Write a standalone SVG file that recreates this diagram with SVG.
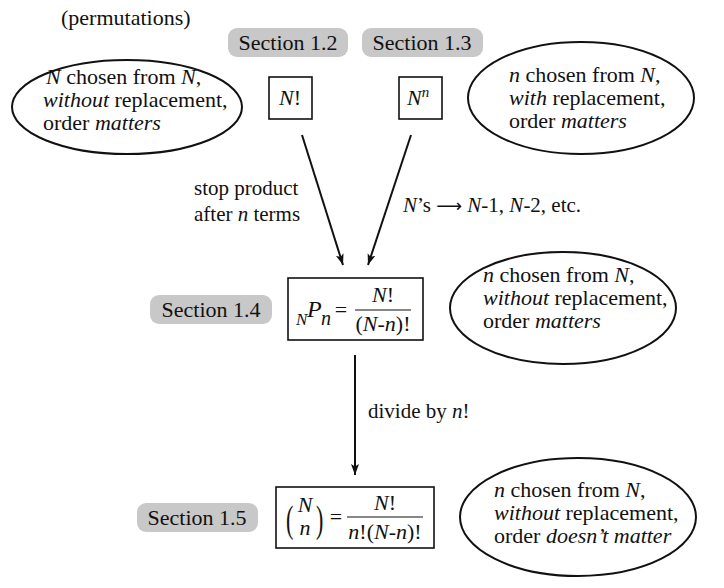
<svg xmlns="http://www.w3.org/2000/svg" width="724" height="588" viewBox="0 0 724 588" font-family="'Liberation Serif', 'Times New Roman', 'DejaVu Serif', serif">
<defs>
<marker id="ah" markerUnits="userSpaceOnUse" markerWidth="12" markerHeight="10" refX="11" refY="4" orient="auto">
<path d="M0,0 L11,4 L0,8 L2.5,4 z" fill="#111"/>
</marker>
<style>
text{font-family:'Liberation Serif','Times New Roman','DejaVu Serif',serif;fill:#111;}
.t{font-size:22px;}
.l{font-size:21px;}
.i{font-style:italic;}
.pill{fill:#c8c8c8;stroke:none;}
.box{fill:#fff;stroke:#111;stroke-width:1.6;}
.ell{fill:#fff;stroke:#111;stroke-width:2;}
.edge{stroke:#111;stroke-width:2;fill:none;marker-end:url(#ah);}
.c{text-anchor:middle;}
</style>
</defs>
<rect width="724" height="588" fill="#fff"/>

<text id="perm" class="t" x="61" y="25">(permutations)</text>

<g id="connectors">
<line class="edge" x1="302" y1="135" x2="343" y2="265"/>
<line class="edge" x1="411" y1="135" x2="368" y2="265"/>
<line class="edge" x1="355" y1="355" x2="355" y2="475"/>
<text class="l" x="194" y="195">stop product</text>
<text class="l" x="194" y="221">after <tspan class="i">n</tspan> terms</text>
<text class="l" x="403" y="212"><tspan class="i">N</tspan>’s <tspan font-family="DejaVu Sans, sans-serif" font-size="18">⟶</tspan> <tspan class="i">N</tspan>-1, <tspan class="i">N</tspan>-2, etc.</text>
<text class="l" x="368" y="418">divide by <tspan class="i">n</tspan>!</text>
</g>

<g id="sec12"><rect class="pill" x="228" y="28" width="120" height="29" rx="9"/><text class="t c" x="288" y="50">Section 1.2</text></g>
<g id="sec13"><rect class="pill" x="362" y="28" width="121" height="29" rx="9"/><text class="t c" x="422" y="50">Section 1.3</text></g>
<g id="sec14"><rect class="pill" x="150" y="295" width="122" height="29" rx="9"/><text class="t c" x="211" y="317">Section 1.4</text></g>
<g id="sec15"><rect class="pill" x="137" y="503" width="121" height="29" rx="9"/><text class="t c" x="197" y="525">Section 1.5</text></g>

<g id="ell1"><ellipse class="ell" cx="127" cy="107" rx="115" ry="47"/>
<text class="t" x="46" y="84"><tspan class="i">N</tspan> chosen from <tspan class="i">N</tspan>,</text>
<text class="t" x="43" y="107"><tspan class="i">without</tspan> replacement,</text>
<text class="t" x="43" y="130">order <tspan class="i">matters</tspan></text></g>

<g id="ell2"><ellipse class="ell" cx="581" cy="98" rx="113" ry="56"/>
<text class="t" x="509" y="82"><tspan class="i">n</tspan> chosen from <tspan class="i">N</tspan>,</text>
<text class="t" x="509" y="105"><tspan class="i">with</tspan> replacement,</text>
<text class="t" x="509" y="128">order <tspan class="i">matters</tspan></text></g>

<g id="ell3"><ellipse class="ell" cx="563" cy="308" rx="113" ry="56"/>
<text class="t" x="483" y="282"><tspan class="i">n</tspan> chosen from <tspan class="i">N</tspan>,</text>
<text class="t" x="483" y="305"><tspan class="i">without</tspan> replacement,</text>
<text class="t" x="483" y="328">order <tspan class="i">matters</tspan></text></g>

<g id="ell4"><ellipse class="ell" cx="578" cy="517" rx="118" ry="59"/>
<text class="t" x="494" y="497"><tspan class="i">n</tspan> chosen from <tspan class="i">N</tspan>,</text>
<text class="t" x="494" y="520"><tspan class="i">without</tspan> replacement,</text>
<text class="t" x="494" y="543">order <tspan class="i">doesn’t matter</tspan></text></g>

<g id="boxNfact"><rect class="box" x="269" y="77" width="43" height="42"/>
<text class="t c" x="290" y="105"><tspan class="i">N</tspan>!</text></g>

<g id="boxNn"><rect class="box" x="399" y="77" width="43" height="42"/>
<text class="t" x="407" y="105"><tspan class="i">N</tspan><tspan class="i" font-size="15" dy="-8">n</tspan></text></g>

<g id="boxPerm"><rect class="box" x="288" y="278" width="135" height="62"/>
<text class="i" font-size="17" x="296" y="325">N</text>
<text class="i" font-size="24" x="307" y="317">P</text>
<text class="i" font-size="20" x="321" y="325">n</text>
<text class="t c" x="341" y="317">=</text>
<line x1="355" y1="310" x2="411" y2="310" stroke="#111" stroke-width="1"/>
<text class="t c" x="383" y="302"><tspan class="i">N</tspan>!</text>
<text class="t c" x="383" y="331">(<tspan class="i">N</tspan>-<tspan class="i">n</tspan>)!</text></g>

<g id="boxComb"><rect class="box" x="276" y="487" width="158" height="61"/>
<text font-size="22" transform="translate(286,532) scale(1,1.75)">(</text>
<text font-size="22" transform="translate(316,532) scale(1,1.75)">)</text>
<text class="t c i" x="305" y="512">N</text>
<text class="t c i" x="305" y="535">n</text>
<text class="t c" x="336" y="524">=</text>
<line x1="347" y1="517" x2="423" y2="517" stroke="#111" stroke-width="1"/>
<text class="t c" x="385" y="510"><tspan class="i">N</tspan>!</text>
<text class="t c" x="385" y="539"><tspan class="i">n</tspan>!(<tspan class="i">N</tspan>-<tspan class="i">n</tspan>)!</text></g>
</svg>
